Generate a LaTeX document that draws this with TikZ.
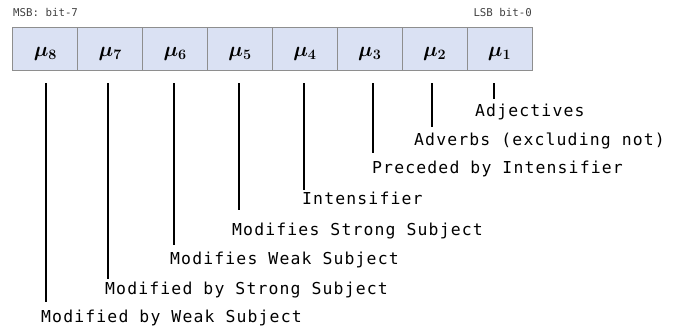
\documentclass[tikz,border=0pt]{standalone}
\usepackage{fontspec}
\usepackage{bm}
\newfontfamily\labfont{DejaVu Sans Mono}[LetterSpace=7]
\newfontfamily\smallfont{DejaVu Sans Mono}
\definecolor{cellfill}{HTML}{DAE1F3}
\definecolor{cellborder}{HTML}{8E8E8E}
\definecolor{smalltext}{HTML}{404040}
\begin{document}
\begin{tikzpicture}[x=1bp,y=-1bp,
  cell/.style={draw=cellborder, line width=1bp, fill=cellfill, minimum width=64.875bp, minimum height=43bp, inner sep=0pt, outer sep=0pt},
  mu/.style={font=\fontsize{20}{20}\selectfont},
  lead/.style={line width=1.8bp, black},
  lab/.style={anchor=base west, inner sep=0pt, font=\labfont\fontsize{16.5}{16.5}\selectfont},
  bitlab/.style={inner sep=0pt, text=smalltext, font=\smallfont\fontsize{10.8}{10.8}\selectfont}]
\useasboundingbox (0,0) rectangle (680,331);
% cells
\foreach \i [evaluate=\i as \xc using {13+64.875*(8-\i)+32.4375}] in {8,...,1}{
  \node[cell] (c\i) at (\xc,48.5) {};
  \node[mu, anchor=base] (m\i) at (\xc,56) {$\bm{\mu_{\i}}$};
}
% bit labels
\node[bitlab, anchor=base west] (msb) at (13,16) {MSB: bit-7};
\node[bitlab, anchor=base east] (lsb) at (532,16) {LSB bit-0};
% labels
\node[lab] (l1) at (475,116.7) {Adjectives};
\node[lab] (l2) at (414,145) {Adverbs (excluding not)};
\node[lab] (l3) at (372,173) {Preceded by Intensifier};
\node[lab] (l4) at (302,204) {Intensifier};
\node[lab] (l5) at (232,235) {Modifies Strong Subject};
\node[lab] (l6) at (170,264) {Modifies Weak Subject};
\node[lab] (l7) at (105,294) {Modified by Strong Subject};
\node[lab] (l8) at (41,322.5) {Modified by Weak Subject};
% leader lines
\coordinate (t1) at (494,83); \coordinate (e1) at (494,99);
\coordinate (t2) at (432,83); \coordinate (e2) at (432,127);
\coordinate (t3) at (373,83); \coordinate (e3) at (373,153);
\coordinate (t4) at (304,83); \coordinate (e4) at (304,190);
\coordinate (t5) at (239,83); \coordinate (e5) at (239,210);
\coordinate (t6) at (174,83); \coordinate (e6) at (174,245);
\coordinate (t7) at (108,83); \coordinate (e7) at (108,279);
\coordinate (t8) at (46,83);  \coordinate (e8) at (46,302);
\foreach \i in {1,...,8}{ \draw[lead] (t\i) -- (e\i); }
\end{tikzpicture}
\end{document}
